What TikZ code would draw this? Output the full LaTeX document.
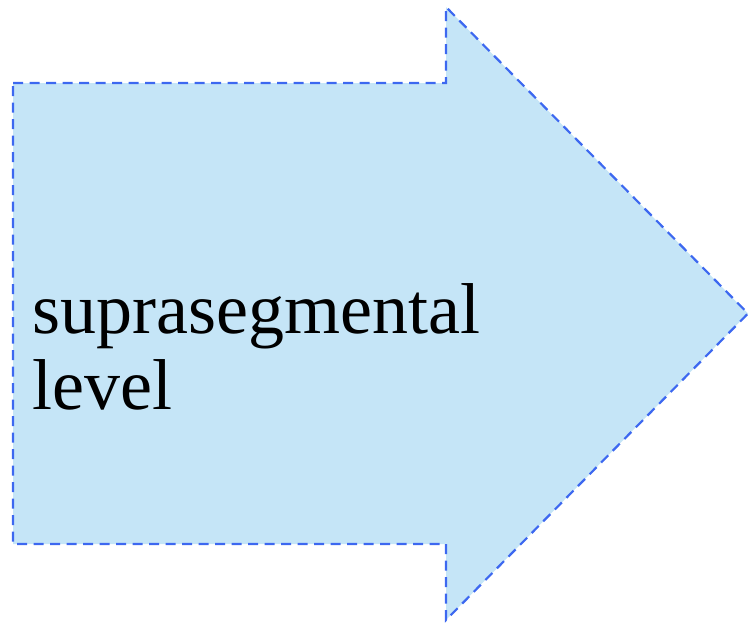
\documentclass[tikz,border=0pt]{standalone}
\usepackage{fontspec}
\setmainfont{Liberation Serif}
\definecolor{arrowfill}{HTML}{C5E5F7}
\definecolor{arrowline}{HTML}{3D68F0}
\tikzset{
	levelarrow/.style={fill=arrowfill, draw=arrowline, line width=2.2pt, dash pattern=on 10pt off 6.5pt},
	levellabel/.style={inner sep=0pt, align=left, font=\fontsize{72}{76}\selectfont}
}
\begin{document}
\begin{tikzpicture}[x=1pt,y=-1pt]
		\useasboundingbox (0,0) rectangle (750,624);
		\draw[levelarrow] (13,83) -- (446,83) -- (446,7) -- (748,313.5) -- (446,620) -- (446,544) -- (13,544) -- cycle;
		\node[levellabel, anchor=north west] (supra) at (32,283) {suprasegmental\\level};
		
\end{tikzpicture}
\end{document}
